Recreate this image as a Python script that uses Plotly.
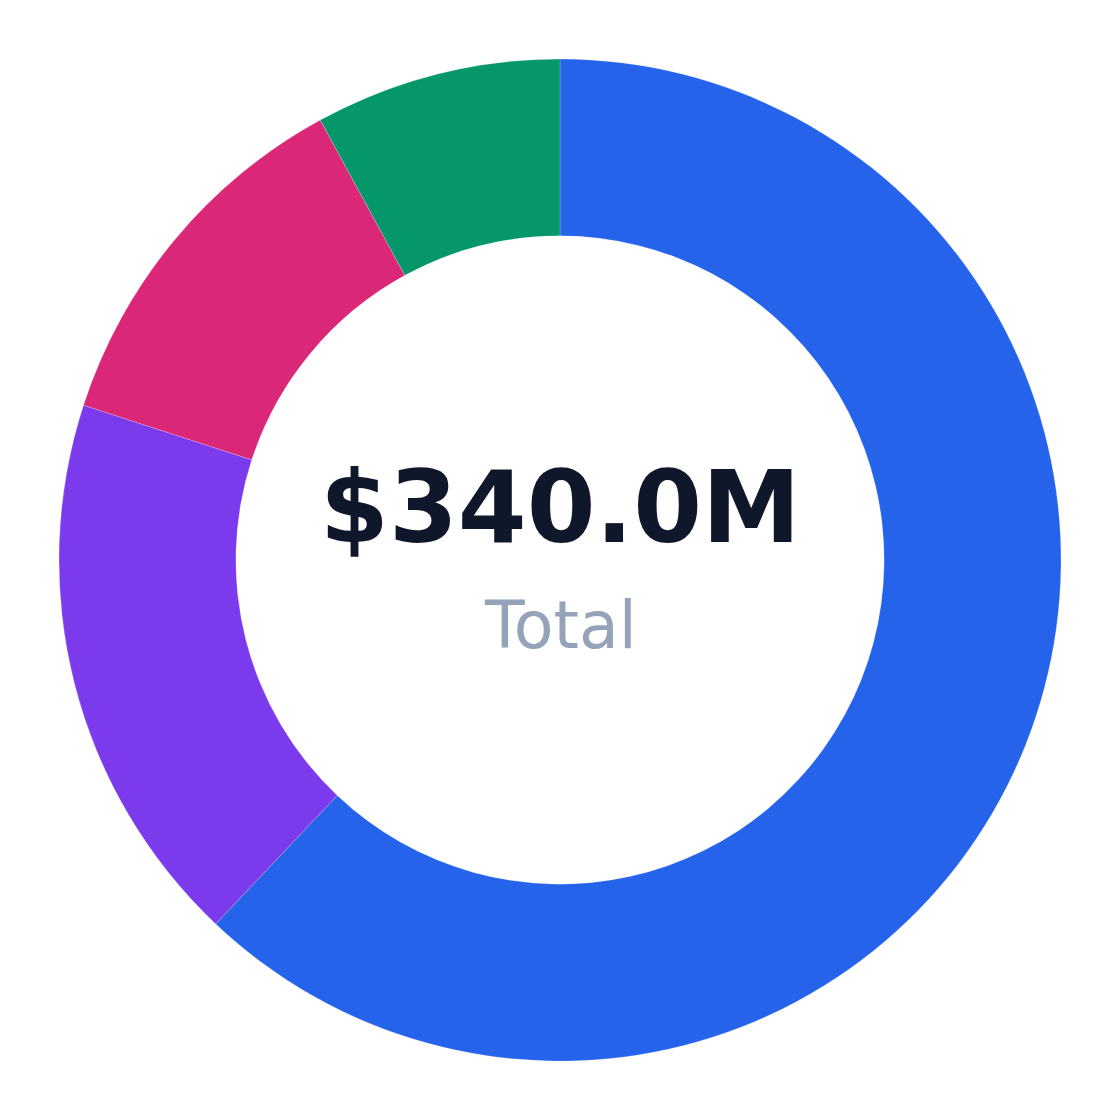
import plotly.graph_objects as go

labels = ["Segment A", "Segment B", "Segment C", "Segment D"]
values = [211, 61, 41, 27]  # $M
colors = ["#2563eb", "#7c3aed", "#db2777", "#059669"]
total_text = "$340.0M"
sub_text = "Total"

fig = go.Figure(go.Pie(
    labels=labels, values=values, hole=0.647, sort=False,
    direction="clockwise", rotation=0,
    marker=dict(colors=colors, line=dict(color="rgba(255,255,255,0.4)", width=0.5)),
    textinfo="none", hoverinfo="label+value+percent", showlegend=False,
))

fig.update_layout(
    width=1120, height=1120,
    margin=dict(l=51, r=67, t=51, b=67),
    paper_bgcolor="white", plot_bgcolor="white",
    font=dict(family="DejaVu Sans"),
    annotations=[
        dict(text=f"<b>{total_text}</b>", x=0.5, y=0.5 + (560 - 507) / 1002, xref="paper", yref="paper",
             showarrow=False, font=dict(size=99, color="#0f172a", family="DejaVu Sans"),
             xanchor="center", yanchor="middle"),
        dict(text=sub_text, x=0.5, y=0.5 - (625.5 - 560) / 1002, xref="paper", yref="paper",
             showarrow=False, font=dict(size=65, color="#94a3b8", family="DejaVu Sans"),
             xanchor="center", yanchor="middle"),
    ],
)

fig.write_html("out.html")
